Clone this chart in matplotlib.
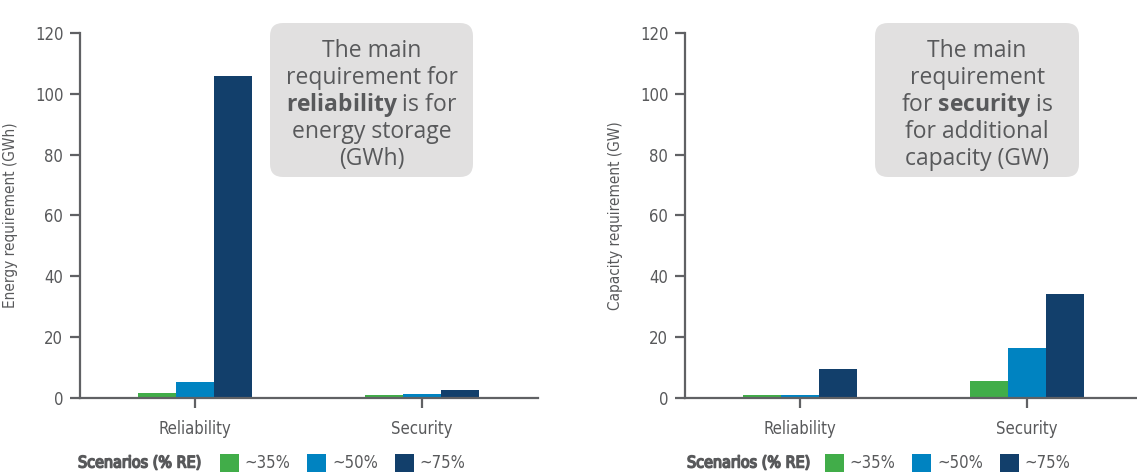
import matplotlib
matplotlib.use("Agg")
import matplotlib.pyplot as plt
from matplotlib import font_manager as fm
from matplotlib import patheffects as pe
from matplotlib.patches import FancyBboxPatch, Patch
from matplotlib.transforms import IdentityTransform
import numpy as np

# data
categories = ['Reliability', 'Security']
scenarios = ['~35%', '~50%', '~75%']
energy_35 = [1.7, 1.1]
energy_50 = [5.3, 1.4]
energy_75 = [105.7, 2.7]
capacity_35 = [1.0, 5.6]
capacity_50 = [1.0, 16.6]
capacity_75 = [9.5, 34.3]
yticks = [0, 20, 40, 60, 80, 100, 120]

colors = ['#41ad49', '#0083c1', '#123f6b']
grey_txt = '#58595b'
grey_ax = '#606164'

# look for a narrow / condensed face, the reference uses a condensed sans
narrow_name, narrow_stretch = 'DejaVu Sans', 'normal'
for f in fm.fontManager.ttflist:
    cond = f.stretch in ('condensed', 'semi-condensed', 'extra-condensed') \
        or 'Narrow' in f.name or 'Condensed' in f.name
    if cond and f.style == 'normal':
        narrow_name, narrow_stretch = f.name, f.stretch
        if 'Sans' in f.name:
            break


def nfp(size, weight='normal'):
    return fm.FontProperties(family=narrow_name, stretch=narrow_stretch,
                             size=size, weight=weight)


plt.rcParams['mathtext.fontset'] = 'custom'
plt.rcParams['mathtext.rm'] = 'Open Sans'
plt.rcParams['mathtext.bf'] = 'Open Sans:bold'

W, H = 1137, 472
fig = plt.figure(figsize=(W / 100, H / 100), dpi=100)
renderer = fig.canvas.get_renderer()


def fit_width(txt, width_px):
    # scale a text so that it spans the width seen in the reference
    w = txt.get_window_extent(renderer).width
    txt.set_fontsize(txt.get_fontsize() * width_px / w)


ax1 = fig.add_axes([80 / W, 74 / H, 458 / W, 365 / H])
ax2 = fig.add_axes([685 / W, 74 / H, 452 / W, 365 / H])

x = np.arange(len(categories))
bw = 1 / 6


def draw(ax, series, ylabel, right_lim):
    for i, vals in enumerate(series):
        ax.bar(x + (i - 1) * bw, vals, bw, color=colors[i], label=scenarios[i])
    ax.set_xlim(-0.507, right_lim)
    ax.set_ylim(0, 120)
    ax.set_yticks(yticks)
    ax.set_xticks(x)
    ax.set_xticklabels(categories)
    for s in ['top', 'right']:
        ax.spines[s].set_visible(False)
    for s in ['left', 'bottom']:
        ax.spines[s].set_linewidth(1.6)
        ax.spines[s].set_color(grey_ax)
    ax.tick_params(axis='both', length=7, width=1.6, color=grey_ax,
                   labelcolor=grey_txt)
    ax.tick_params(axis='x', pad=9)
    ax.tick_params(axis='y', pad=5)
    for lab in ax.get_xticklabels():
        lab.set_fontproperties(nfp(12))
    for lab in ax.get_yticklabels():
        lab.set_fontproperties(nfp(12))
    ax.set_ylabel(ylabel, fontproperties=nfp(11), color=grey_txt)
    ax.yaxis.set_label_coords(-62 / (ax.get_position().width * W), 0.5)


draw(ax1, [energy_35, energy_50, energy_75], 'Energy requirement (GWh)', 1.511)
draw(ax2, [capacity_35, capacity_50, capacity_75], 'Capacity requirement (GW)', 1.485)

# callout boxes
boxes = [
    (270, 473, ['The main', 'requirement for', r'$\mathbf{reliability}$ is for',
                'energy storage', '(GWh)']),
    (875, 1079, ['The main', 'requirement', r'for $\mathbf{security}$ is',
                 'for additional', 'capacity (GW)']),
]
for x0, x1, lines in boxes:
    fig.patches.append(FancyBboxPatch((x0, H - 177), x1 - x0, 154,
                                      boxstyle='round,pad=0,rounding_size=13',
                                      transform=IdentityTransform(),
                                      facecolor='#e1e0e0', edgecolor='none'))
    for k, line in enumerate(lines):
        fig.text((x0 + x1) / 2 / W, (H - (57 + 27 * k)) / H, line,
                 ha='center', va='baseline', fontsize=16.5,
                 family='Open Sans', color=grey_txt)

# legends
ly = (H - 463) / H
handles = [Patch(facecolor=c, edgecolor='none') for c in colors]
for tx, px in [(78, 220), (687, 825)]:
    t = fig.text(tx / W, ly, 'Scenarios (% RE)',
                 fontproperties=nfp(14), color=grey_txt,
                 ha='left', va='center')
    fit_width(t, 124)
    # condensed face has no bold here, thicken it with a stroke
    t.set_path_effects([pe.withStroke(linewidth=1.1, foreground=grey_txt)])
    fig.legend(handles, scenarios, loc='center left',
               bbox_to_anchor=(px / W, ly), ncol=3, frameon=False,
               borderpad=0, borderaxespad=0, handlelength=1.14,
               handleheight=1.3, handletextpad=0.35, columnspacing=1.0,
               prop=nfp(12), labelcolor=grey_txt)

fig.savefig('out.png', dpi=100)
